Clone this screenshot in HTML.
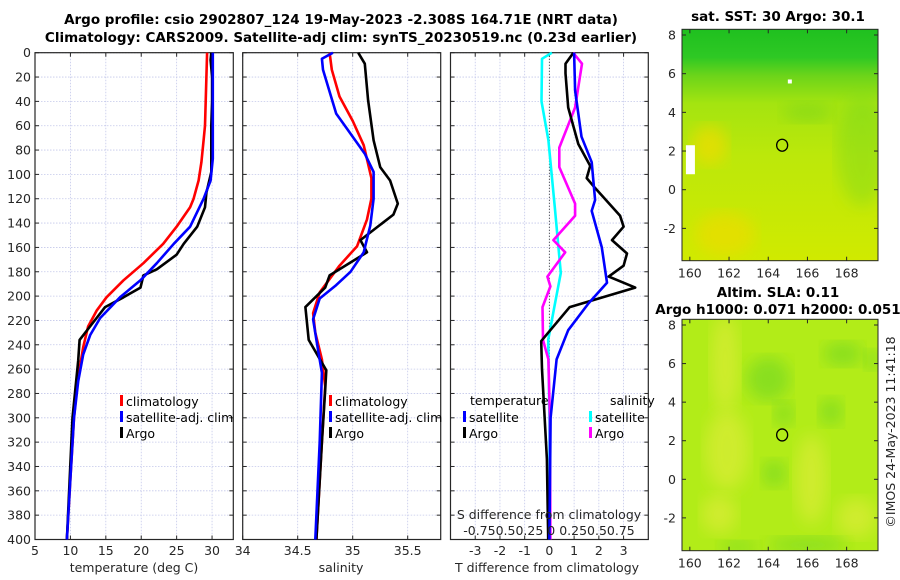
<!DOCTYPE html>
<html><head><meta charset="utf-8">
<style>
html,body{margin:0;padding:0;background:#fff;}
svg{display:block;font-family:"DejaVu Sans","Liberation Sans",sans-serif;}
.tk{font-size:12.5px;fill:#262626;}
.ttl{font-size:13.5px;font-weight:bold;fill:#000;}
.lg{font-size:12.5px;fill:#000;}
</style></head>
<body>
<svg id="fig" width="900" height="580" viewBox="0 0 900 580">
<defs>
<linearGradient id="sstg" x1="0" y1="0" x2="0" y2="1">
<stop offset="0" stop-color="#1fc01f"/><stop offset="0.12" stop-color="#2ec824"/>
<stop offset="0.2" stop-color="#6cd41a"/><stop offset="0.32" stop-color="#a4e410"/>
<stop offset="0.55" stop-color="#bce80a"/><stop offset="1" stop-color="#d0ea00"/>
</linearGradient>
<filter id="blur8"><feGaussianBlur stdDeviation="8"/></filter>
<clipPath id="c1"><rect x="682" y="29" width="196" height="232"/></clipPath>
<clipPath id="c2"><rect x="682" y="319" width="196" height="232"/></clipPath>
</defs>
<text class="ttl" x="341" y="24" text-anchor="middle">Argo profile: csio 2902807_124 19-May-2023 -2.308S 164.71E (NRT data)</text>
<text class="ttl" x="341" y="42" text-anchor="middle">Climatology: CARS2009. Satellite-adj clim: synTS_20230519.nc (0.23d earlier)</text>
<g id="panels"></g>
<g id="maps"></g>
</svg>
<script>
// ---------- DATA ----------
const depthTicks = [0,20,40,60,80,100,120,140,160,180,200,220,240,260,280,300,320,340,360,380,400];
const tempTicks = [5,10,15,20,25,30];
const salTicks = [34,34.5,35,35.5];
const tdiffTicks = [-3,-2,-1,0,1,2,3];

const climD = [0,20,40,60,72,90,105,120,127,143,157,173,187,201,212,225,242,270,300,350,400];
const climT = [29.3,29.2,29.1,29.0,28.8,28.5,28.1,27.4,26.9,25.0,23.1,20.3,17.5,15.1,13.7,12.5,11.8,11.0,10.5,10.0,9.5];
const satD = [0,20,40,60,87,105,120,143,157,173,187,201,218,232,248,270,300,350,400];
const satT = [30.1,30.1,30.1,30.1,30.1,29.8,28.8,26.9,24.6,22.2,19.9,17.0,14.2,12.8,11.8,11.1,10.5,10.0,9.5];
const argoD = [0,6,20,40,60,80,98,115,127,143,157,166,178,183,193,201,209,218,236,253,300,350,400];
const argoT = [29.9,29.8,30.0,30.0,29.9,29.9,29.9,29.2,29.0,27.9,26.0,25.0,22.2,20.3,19.9,17.5,14.9,13.7,11.3,11.1,10.3,9.9,9.5];

const sClimD = [0,14,36,56,76,103,120,137,159,175,197,214,230,252,274,320,400];
const sClim = [34.79,34.81,34.88,35.0,35.1,35.17,35.17,35.13,35.04,34.88,34.70,34.64,34.66,34.72,34.75,34.72,34.67];
const sSatD = [0,5,14,50,69,83,98,120,142,164,180,191,202,219,236,263,320,400];
const sSat = [34.82,34.72,34.73,34.85,35.0,35.11,35.19,35.19,35.16,35.1,34.98,34.85,34.70,34.64,34.67,34.72,34.70,34.66];
const sArgoD = [0,9,39,72,94,105,124,133,154,164,183,193,209,236,261,277,320,400];
const sArgo = [35.05,35.11,35.14,35.19,35.25,35.34,35.41,35.37,35.07,35.13,34.79,34.75,34.57,34.60,34.76,34.75,34.72,34.67];

const dTArgoD = [0,9,17,45,75,93,103,111,134,143,154,165,175,184,193,209,237,260,334,400];
const dTArgo = [0.97,0.65,0.65,0.76,1.17,1.65,1.51,1.84,2.86,3.0,2.53,3.14,3.0,2.4,3.47,0.82,-0.33,-0.3,-0.1,-0.05];
const dTSatD = [0,31,69,90,121,130,160,189,206,228,252,300,400];
const dTSat = [1.0,1.04,1.3,1.71,1.85,1.71,2.12,2.33,1.58,0.76,0.29,0.05,0.0];
const dSArgoD = [0,9,45,78,94,124,134,154,164,184,192,209,236,252,300,400];
const dSArgo = [0.24,0.33,0.26,0.10,0.10,0.26,0.26,0.04,0.16,-0.02,0.01,-0.07,-0.065,-0.01,0.005,0.01];
const dSSatD = [0,5,40,72,127,181,209,236,300,400];
const dSSat = [0.025,-0.075,-0.08,-0.01,0.055,0.115,0.05,-0.012,0,0];

const lonTicks = [160,162,164,166,168];
const latTicks = [-2,0,2,4,6,8];
const floatLon = 164.71, floatLat = 2.3;

// ---------- HELPERS ----------
const NS = 'http://www.w3.org/2000/svg';
function mk(tag, attrs, parent){const e=document.createElementNS(NS,tag);for(const k in attrs)e.setAttribute(k,attrs[k]);parent.appendChild(e);return e;}
const Y0=52.7, Y1=539.5;
const yD = d => Y0 + d/400*(Y1-Y0);
const panels = document.getElementById('panels');

function makePanel(name, x0, x1, vmin, vmax, ticks, showYLabels){
  const xs = v => x0 + (v-vmin)/(vmax-vmin)*(x1-x0);
  const g = mk('g',{},panels);
  
  
  ticks.forEach(t=>{
    const gl=mk('line',{x1:xs(t),x2:xs(t),y1:Y0,y2:Y1,stroke:'#c4c8ea','stroke-width':0.8,'stroke-dasharray':'1.5,1.5'},g);
    
    
  });
  depthTicks.forEach(d=>{
    const gl=mk('line',{x1:x0,x2:x1,y1:yD(d),y2:yD(d),stroke:'#c4c8ea','stroke-width':0.8,'stroke-dasharray':'1.5,1.5'},g);
    
    
    mk('line',{x1:x0,x2:x0+4,y1:yD(d),y2:yD(d),stroke:'#262626'},g);
    mk('line',{x1:x1,x2:x1-4,y1:yD(d),y2:yD(d),stroke:'#262626'},g);
    if(showYLabels){
      const t=mk('text',{x:x0-4,y:yD(d)+4.5,'text-anchor':'end',class:'tk'},g);
      t.textContent=d;
      
      
    }
  });
  ticks.forEach(t=>{
    mk('line',{x1:xs(t),x2:xs(t),y1:Y1,y2:Y1-4,stroke:'#262626'},g);
    mk('line',{x1:xs(t),x2:xs(t),y1:Y0,y2:Y0+4,stroke:'#262626'},g);
  });
  const fr=mk('rect',{x:x0,y:Y0,width:x1-x0,height:Y1-Y0,fill:'none',stroke:'#262626','stroke-width':1.2},g);
  
  
  return {g,xs};
}
function line(p, vals, depths, color, name){
  const pts = vals.map((v,i)=>p.xs(v).toFixed(1)+','+yD(depths[i]).toFixed(1)).join(' ');
  const l=mk('polyline',{points:pts,fill:'none',stroke:color,'stroke-width':2.6,'stroke-linejoin':'round'},p.g);
  
  
}
function xLabels(p, ticks, y, fmt){
  ticks.forEach(t=>{
    const e=mk('text',{x:p.xs(t),y:y,'text-anchor':'middle',class:'tk'},p.g);
    e.textContent=fmt?fmt(t):t;
    
    
  });
}
function txt(parent, x, y, s, name, anchor, cls){
  const e=mk('text',{x:x,y:y,'text-anchor':anchor||'start',class:cls||'tk'},parent);
  e.textContent=s;
  
  
  return e;
}
function legendEntry(parent,x,y,color,label,name){
  const g=mk('g',{},parent);
  
  
  mk('rect',{x:x,y:y-11,width:3,height:11,fill:color},g);
  txt(g,x+6,y,label,name+'-label','start','lg');
}

// ---------- PANEL 1 ----------
const p1 = makePanel('temperature-panel',35,233.3,5,33,tempTicks,true);
line(p1, climT, climD, '#ff0000','climatology-temp-line');
line(p1, argoT, argoD, '#000000','argo-temp-line');
line(p1, satT, satD, '#0000ff','satellite-temp-line');
xLabels(p1, tempTicks, 555);
txt(p1.g,134,572,'temperature (deg C)','x-axis-title-temperature','middle');
legendEntry(p1.g,120,406,'#ff0000','climatology','legend-climatology-1');
legendEntry(p1.g,120,422,'#0000ff','satellite-adj. clim','legend-satellite-1');
legendEntry(p1.g,120,438,'#000000','Argo','legend-argo-1');

// ---------- PANEL 2 ----------
const p2 = makePanel('salinity-panel',242.7,440.7,34,35.8,salTicks,false);
line(p2, sClim, sClimD, '#ff0000','climatology-sal-line');
line(p2, sArgo, sArgoD, '#000000','argo-sal-line');
line(p2, sSat, sSatD, '#0000ff','satellite-sal-line');
xLabels(p2, salTicks, 555);
txt(p2.g,341,572,'salinity','x-axis-title-salinity','middle');
legendEntry(p2.g,329,406,'#ff0000','climatology','legend-climatology-2');
legendEntry(p2.g,329,422,'#0000ff','satellite-adj. clim','legend-satellite-2');
legendEntry(p2.g,329,438,'#000000','Argo','legend-argo-2');

// ---------- PANEL 3 ----------
const p3 = makePanel('difference-panel',450.5,648.3,-4,4,tdiffTicks,false);
const zl=mk('line',{x1:p3.xs(0),x2:p3.xs(0),y1:Y0,y2:Y1,stroke:'#333','stroke-width':1,'stroke-dasharray':'1,2'},p3.g);


const p3s = {g:p3.g, xs: v => p3.xs(v*4)};
line(p3s, dSSat, dSSatD, '#00ffff','satellite-sal-diff-line');
line(p3s, dSArgo, dSArgoD, '#ff00ff','argo-sal-diff-line');
line(p3, dTArgo, dTArgoD, '#000000','argo-temp-diff-line');
line(p3, dTSat, dTSatD, '#0000ff','satellite-temp-diff-line');
xLabels(p3, tdiffTicks, 555);
txt(p3.g,547,572,'T difference from climatology','x-axis-title-tdiff','middle');
txt(p3.g,549,519,'S difference from climatology','s-diff-axis-title','middle');
txt(p3.g,549,535,'-0.750.50.25 0 0.250.50.75','s-diff-tick-labels','middle');
txt(p3.g,470,405,'temperature','legend-header-temperature','start','lg');
txt(p3.g,610,405,'salinity','legend-header-salinity','start','lg');
legendEntry(p3.g,463,422,'#0000ff','satellite','legend-temp-satellite');
legendEntry(p3.g,463,438,'#000000','Argo','legend-temp-argo');
legendEntry(p3.g,589,422,'#00ffff','satellite','legend-sal-satellite');
legendEntry(p3.g,589,438,'#ff00ff','Argo','legend-sal-argo');

// ---------- MAPS ----------
const maps = document.getElementById('maps');
const MX0=682, MX1=878, LON0=159.6, LON1=169.6;
const xLon = lon => MX0 + (lon-LON0)/(LON1-LON0)*(MX1-MX0);
function makeMap(name, top, bottom, lat8y, lat0y, kind){
  const yLat = lat => lat0y + (lat8y-lat0y)*lat/8;
  const g=mk('g',{},maps);
  
  
  const clip = kind==='sst'?'url(#c1)':'url(#c2)';
  const bg=mk('g',{'clip-path':clip},g);
  if(kind==='sst'){
    mk('rect',{x:MX0,y:top,width:MX1-MX0,height:bottom-top,fill:'url(#sstg)'},bg);
    mk('ellipse',{cx:xLon(168.8),cy:yLat(2),rx:25,ry:55,fill:'#6cd424',opacity:0.35,filter:'url(#blur8)'},bg);
    mk('ellipse',{cx:xLon(161),cy:yLat(2.3),rx:18,ry:20,fill:'#f0dc00',opacity:0.7,filter:'url(#blur8)'},bg);
    mk('ellipse',{cx:xLon(161.8),cy:yLat(-2.3),rx:30,ry:22,fill:'#ecdc00',opacity:0.7,filter:'url(#blur8)'},bg);
    mk('ellipse',{cx:xLon(166),cy:yLat(4),rx:25,ry:10,fill:'#60cc20',opacity:0.35,filter:'url(#blur8)'},bg);
    mk('rect',{x:xLon(159.8),y:yLat(2.3),width:9,height:yLat(0.8)-yLat(2.3),fill:'#fff'},bg);
    mk('rect',{x:xLon(165),y:yLat(5.7),width:4,height:4,fill:'#fff'},bg);
  } else {
    mk('rect',{x:MX0,y:top,width:MX1-MX0,height:bottom-top,fill:'#b2ec18'},bg);
    [[161.8,6,14,50],[161.9,1.5,22,40],[161.5,-1.8,18,20],[166.2,0,16,45],[168.5,-2,20,20]].forEach(b=>{
      mk('ellipse',{cx:xLon(b[0]),cy:yLat(b[1]),rx:b[2],ry:b[3],fill:'#d4ec30',opacity:0.85,filter:'url(#blur8)'},bg);
    });
    [[164,5.2,22,22],[164.8,3.4,10,12],[164.3,0.3,12,14],[167.8,6.5,20,12],[169.3,6.2,8,10],[166,-3.4,40,8],[162.5,-3.5,20,6],[167.2,3.5,12,14]].forEach(b=>{
      mk('ellipse',{cx:xLon(b[0]),cy:yLat(b[1]),rx:b[2],ry:b[3],fill:'#7cda20',opacity:0.75,filter:'url(#blur8)'},bg);
    });
  }
  const c=mk('ellipse',{cx:xLon(floatLon),cy:yLat(floatLat),rx:5.5,ry:6,fill:'none',stroke:'#000','stroke-width':1.3},g);
  
  
  mk('rect',{x:MX0,y:top,width:MX1-MX0,height:bottom-top,fill:'none',stroke:'#262626','stroke-width':1},g);
  lonTicks.forEach(l=>{
    mk('line',{x1:xLon(l),x2:xLon(l),y1:bottom,y2:bottom-4,stroke:'#262626'},g);
    mk('line',{x1:xLon(l),x2:xLon(l),y1:top,y2:top+4,stroke:'#262626'},g);
    txt(g,xLon(l),bottom+17,String(l),'lon-tick-label','middle');
  });
  latTicks.forEach(l=>{
    mk('line',{x1:MX0,x2:MX0+4,y1:yLat(l),y2:yLat(l),stroke:'#262626'},g);
    mk('line',{x1:MX1,x2:MX1-4,y1:yLat(l),y2:yLat(l),stroke:'#262626'},g);
    txt(g,MX0-6,yLat(l)+4.5,String(l),'lat-tick-label','end');
  });
  return g;
}
const m1=makeMap('sst-map',29.3,260.7,35,189.7,'sst');
txt(m1,778,21,'sat. SST: 30 Argo: 30.1','sst-map-title','middle','ttl');
const m2=makeMap('sla-map',319.3,550.7,325,479.3,'sla');
txt(m2,778,297,'Altim. SLA: 0.11','sla-map-title','middle','ttl');
txt(m2,778,314,'Argo h1000: 0.071 h2000: 0.051','sla-map-subtitle','middle','ttl');
const cr=txt(m2,0,0,'©IMOS 24-May-2023 11:41:18','imos-credit','middle');
cr.setAttribute('transform','translate(895,432) rotate(-90)');
</script>
</body></html>
